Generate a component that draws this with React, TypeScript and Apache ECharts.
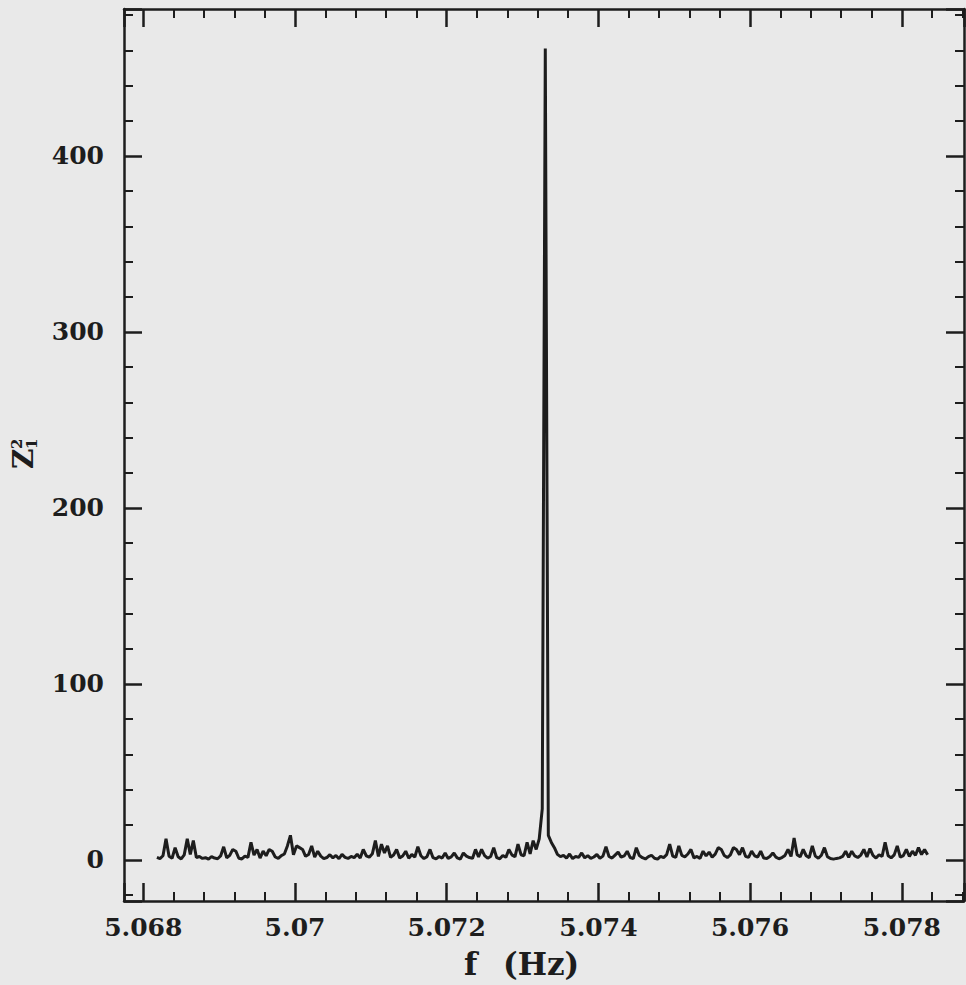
import React, { useEffect, useRef } from 'react';
import * as echarts from 'echarts';

// Frequency grid of the periodogram (Hz)
const freqStart = 5.06818;
const freqStep = 0.00004;

// Z_1^2 power values
const z2Values = [
  1.5, 0.8, 2.4, 12, 2.1, 1.0, 7, 1.8, 0.6, 2.9,
  12, 3.2, 11, 1.4, 2.0, 0.9, 1.3, 0.5, 1.9, 1.1,
  0.7, 2.3, 7.5, 1.2, 2.6, 6, 5, 1.0, 0.6, 2.2,
  1.5, 10, 2.8, 6, 1.1, 5, 2.4, 6, 5, 1.7,
  0.9, 2.5, 3.4, 8, 14, 3.0, 8, 7, 6, 2.1,
  3.1, 8, 1.6, 5, 2.2, 0.8, 1.4, 3.0, 1.2, 2.6,
  0.7, 3.2, 1.5, 0.9, 2.0, 1.3, 3.3, 1.1, 6, 2.4,
  1.6, 3.5, 11, 2.0, 9, 4.0, 8, 1.5, 2.8, 6,
  1.2, 2.3, 5, 1.0, 3.1, 1.7, 7.5, 2.4, 0.8, 1.9,
  6, 1.3, 0.6, 2.0, 1.1, 4, 0.9, 1.8, 4, 1.2,
  0.5, 4, 2.2, 1.4, 0.9, 6, 1.7, 6, 2.5, 1.0,
  2.0, 7, 1.3, 0.7, 2.6, 1.5, 6, 2.9, 1.8, 9,
  3.0, 2.4, 10, 3.5, 11, 6, 12, 29, 461, 14,
  10, 7, 3.2, 1.9, 2.6, 1.1, 3.4, 0.8, 2.0, 1.5,
  4, 1.2, 2.5, 0.9, 1.7, 3.1, 1.0, 2.2, 7.5, 2.0,
  1.1, 2.8, 4.5, 1.6, 2.3, 5, 1.4, 0.8, 7, 2.5,
  1.3, 0.6, 1.9, 2.7, 1.0, 0.5, 2.1, 1.4, 3.0, 9,
  2.2, 1.5, 8, 2.6, 1.8, 3.4, 6, 1.2, 2.0, 0.9,
  5, 2.3, 4.5, 1.6, 3.3, 7, 6, 2.5, 1.4, 2.9,
  7, 6, 3.0, 7, 2.1, 1.5, 5, 2.4, 1.7, 5,
  1.1, 0.8, 2.0, 4, 1.6, 0.7, 1.4, 2.6, 6, 2.0,
  12.5, 3.0, 1.8, 6, 2.4, 1.3, 8, 2.2, 1.0, 2.7,
  7, 1.9, 0.8, 0.5, 0.9, 1.2, 2.0, 5, 1.5, 5,
  2.3, 1.4, 2.8, 6, 1.7, 6.5, 2.6, 1.1, 3.0, 2.0,
  10, 2.4, 1.2, 2.9, 8, 1.6, 2.5, 6, 2.0, 5,
  2.7, 7, 3.1, 6, 3,
];

const xTickLabels = ['5.068', '5.07', '5.072', '5.074', '5.076', '5.078'];
const yTickLabels = ['0', '100', '200', '300', '400'];

const xMin = 5.067746;
const xMax = 5.07882;
const yMin = -23.3;
const yMax = 483.5;

const INK = '#1d1d1d';
const FONT = 'DejaVu Serif';

function pickLabel(labels: string[], v: number, tol: number) {
  const hit = labels.find((l) => Math.abs(Number(l) - v) < tol);
  return hit === undefined ? '' : hit;
}

export default function App() {
  const ref = useRef<HTMLDivElement>(null);
  useEffect(() => {
    if (!ref.current) return;
    const chart = echarts.init(ref.current, null, { renderer: 'svg' });
    const data = z2Values.map((v, i) => [freqStart + i * freqStep, v]);

    const tickCommon = {
      axisLine: { show: true, onZero: false, lineStyle: { color: INK, width: 2.5 } },
      axisTick: { show: true, inside: true, length: 18, lineStyle: { color: INK, width: 2.5 } },
      minorTick: { show: true, splitNumber: 5, length: 9, lineStyle: { color: INK, width: 2 } },
      splitLine: { show: false },
      minorSplitLine: { show: false },
    };

    chart.setOption({
      animation: false,
      backgroundColor: '#e9e9e9',
      grid: { left: 124, top: 9, right: 2, bottom: 84, containLabel: false },
      xAxis: [
        {
          type: 'value',
          position: 'bottom',
          min: xMin,
          max: xMax,
          splitNumber: 5,
          ...tickCommon,
          axisLabel: {
            show: true,
            margin: 14,
            color: INK,
            fontFamily: FONT,
            fontWeight: 'bold',
            fontSize: 25,
            showMinLabel: false,
            showMaxLabel: false,
            formatter: (v: number) => pickLabel(xTickLabels, v, 1e-6),
          },
        },
        {
          type: 'value',
          position: 'top',
          min: xMin,
          max: xMax,
          splitNumber: 5,
          ...tickCommon,
          axisLabel: { show: false },
        },
      ],
      yAxis: [
        {
          type: 'value',
          position: 'left',
          min: yMin,
          max: yMax,
          splitNumber: 5,
          ...tickCommon,
          axisLabel: {
            show: true,
            margin: 20,
            color: INK,
            fontFamily: FONT,
            fontWeight: 'bold',
            fontSize: 25,
            showMinLabel: false,
            showMaxLabel: false,
            formatter: (v: number) => pickLabel(yTickLabels, v, 1e-6),
          },
        },
        {
          type: 'value',
          position: 'right',
          min: yMin,
          max: yMax,
          splitNumber: 5,
          ...tickCommon,
          axisLabel: { show: false },
        },
      ],
      series: [
        {
          type: 'line',
          xAxisIndex: 0,
          yAxisIndex: 0,
          data,
          showSymbol: false,
          symbol: 'none',
          lineStyle: { color: INK, width: 3 },
          itemStyle: { color: INK },
        },
      ],
      graphic: [
        {
          type: 'text',
          left: 464,
          top: 948,
          style: { text: 'f', fontFamily: FONT, fontWeight: 'bold', fontSize: 31, fill: INK },
        },
        {
          type: 'text',
          left: 503,
          top: 948,
          style: { text: '(Hz)', fontFamily: FONT, fontWeight: 'bold', fontSize: 31, fill: INK },
        },
        {
          type: 'group',
          x: 23,
          y: 469,
          rotation: Math.PI / 2,
          children: [
            {
              type: 'text',
              x: 0,
              y: 0,
              style: { text: 'Z', fontFamily: FONT, fontWeight: 'bold', fontSize: 28, fill: INK, align: 'left', verticalAlign: 'middle' },
            },
            {
              type: 'text',
              x: 20,
              y: -6,
              style: { text: '2', fontFamily: FONT, fontWeight: 'bold', fontSize: 15, fill: INK, align: 'left', verticalAlign: 'middle' },
            },
            {
              type: 'text',
              x: 20,
              y: 9,
              style: { text: '1', fontFamily: FONT, fontWeight: 'bold', fontSize: 15, fill: INK, align: 'left', verticalAlign: 'middle' },
            },
          ],
        },
      ],
    });
    return () => chart.dispose();
  }, []);
  return (
    <div
      ref={ref}
      style={{ position: 'fixed', left: 0, top: 0, width: 966, height: 985 }}
    />
  );
}
